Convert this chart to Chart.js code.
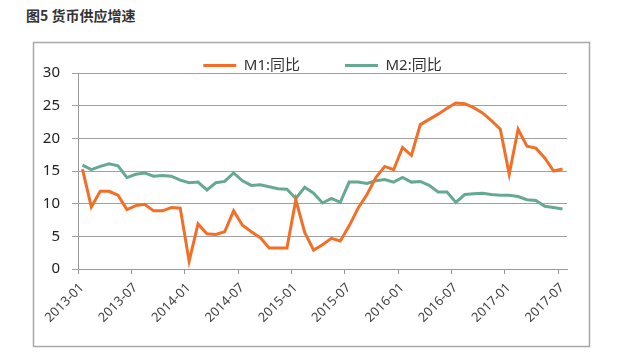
<!DOCTYPE html>
<html><head><meta charset="utf-8">
<script src="https://cdn.jsdelivr.net/npm/chart.js@4"></script>
<style>
html,body{margin:0;padding:0;background:#fff;}
#wrap{position:relative;width:620px;height:364px;}
#title{position:absolute;left:26px;top:5px;font:bold 14px "Noto Sans CJK SC","Noto Sans",sans-serif;color:#333;}
canvas{position:absolute;left:0;top:0;}
</style></head>
<body>
<div id="wrap"><div id="title">图5 货币供应增速</div><canvas id="c" width="620" height="364"></canvas></div>
<script>
const months = [];
for (let y = 2013; y <= 2017; y++) for (let m = 1; m <= 12; m++) { if (y === 2017 && m > 7) break; months.push(y + '-' + String(m).padStart(2, '0')); }
const m1 = [15.3,9.5,11.9,11.9,11.3,9.1,9.7,9.9,8.9,8.9,9.4,9.3,
            1.2,6.9,5.4,5.3,5.7,8.9,6.7,5.7,4.8,3.2,3.2,3.2,
            10.6,5.6,2.9,3.7,4.7,4.3,6.6,9.3,11.4,14.0,15.7,15.2,
            18.6,17.4,22.1,22.9,23.7,24.6,25.4,25.3,24.7,23.9,22.7,21.4,
            14.5,21.4,18.8,18.5,17.0,15.0,15.3];
const m2 = [15.9,15.2,15.7,16.1,15.8,14.0,14.5,14.7,14.2,14.3,14.2,13.6,
            13.2,13.3,12.1,13.2,13.4,14.7,13.5,12.8,12.9,12.6,12.3,12.2,
            10.8,12.5,11.6,10.1,10.8,10.2,13.3,13.3,13.1,13.5,13.7,13.3,
            14.0,13.3,13.4,12.8,11.8,11.8,10.2,11.4,11.5,11.6,11.4,11.3,
            11.3,11.1,10.6,10.5,9.6,9.4,9.2];
const seriesNames = ['M1:同比', 'M2:同比'];
const colors = ['#F36F27', '#65AA90'];
const yTicks = [0, 5, 10, 15, 20, 25, 30];

const framePlugin = {
  id: 'frame',
  beforeDraw(chart) {
    const ctx = chart.ctx;
    ctx.save();
    ctx.strokeStyle = '#a8a8a8';
    ctx.lineWidth = 1.5;
    ctx.strokeRect(33.5, 42.5, 556, 304);
    ctx.restore();
  }
};

const font = {family: '"Noto Sans","Noto Sans CJK SC",sans-serif'};
new Chart(document.getElementById('c'), {
  type: 'line',
  data: {
    datasets: [
      {label: seriesNames[0], data: m1.map((v, i) => ({x: i + 0.5, y: v})), borderColor: colors[0], backgroundColor: colors[0], borderWidth: 3, pointRadius: 0, tension: 0},
      {label: seriesNames[1], data: m2.map((v, i) => ({x: i + 0.5, y: v})), borderColor: colors[1], backgroundColor: colors[1], borderWidth: 3, pointRadius: 0, tension: 0}
    ]
  },
  options: {
    responsive: false,
    animation: false,
    events: [],
    layout: {padding: {left: 36, right: 53, top: 13, bottom: 20}},
    plugins: {
      title: {display: false},
      tooltip: {enabled: false},
      legend: {
        display: true,
        position: 'top',
        fullSize: false,
        maxHeight: 60,
        labels: {
          boxWidth: 33, boxHeight: 3, padding: 45,
          color: '#333',
          font: {family: '"Noto Sans","Noto Sans CJK SC",sans-serif', size: 15},
          generateLabels(chart) {
            return chart.data.datasets.map((d, i) => ({text: d.label, fillStyle: d.borderColor, strokeStyle: d.borderColor, lineWidth: 0, datasetIndex: i, fontColor: '#333'}));
          }
        }
      }
    },
    scales: {
      x: {
        type: 'linear', min: 0, max: 55,
        afterFit(s) { s.height = 75; },
        afterBuildTicks(s) { s.ticks = months.map((m, i) => i).filter(i => i % 6 === 0).map(v => ({value: v})); },
        ticks: {
          autoSkip: false, maxRotation: 45, minRotation: 45,
          color: '#444', font: Object.assign({size: 13}, font), padding: 6, labelOffset: 4,
          callback: (v) => months[v]
        },
        grid: {drawOnChartArea: false, color: '#999', tickLength: 5},
        border: {color: '#999', width: 1}
      },
      y: {
        min: 0, max: 30,
        afterFit(s) { s.width = 78 - 36; },
        afterBuildTicks(s) { s.ticks = yTicks.map(v => ({value: v})); },
        ticks: {color: '#222', font: Object.assign({size: 15}, font), padding: 12},
        grid: {color: '#a0a0a0', tickLength: 6},
        border: {color: '#999', width: 1}
      }
    }
  },
  plugins: [framePlugin]
});
</script>
</body></html>
